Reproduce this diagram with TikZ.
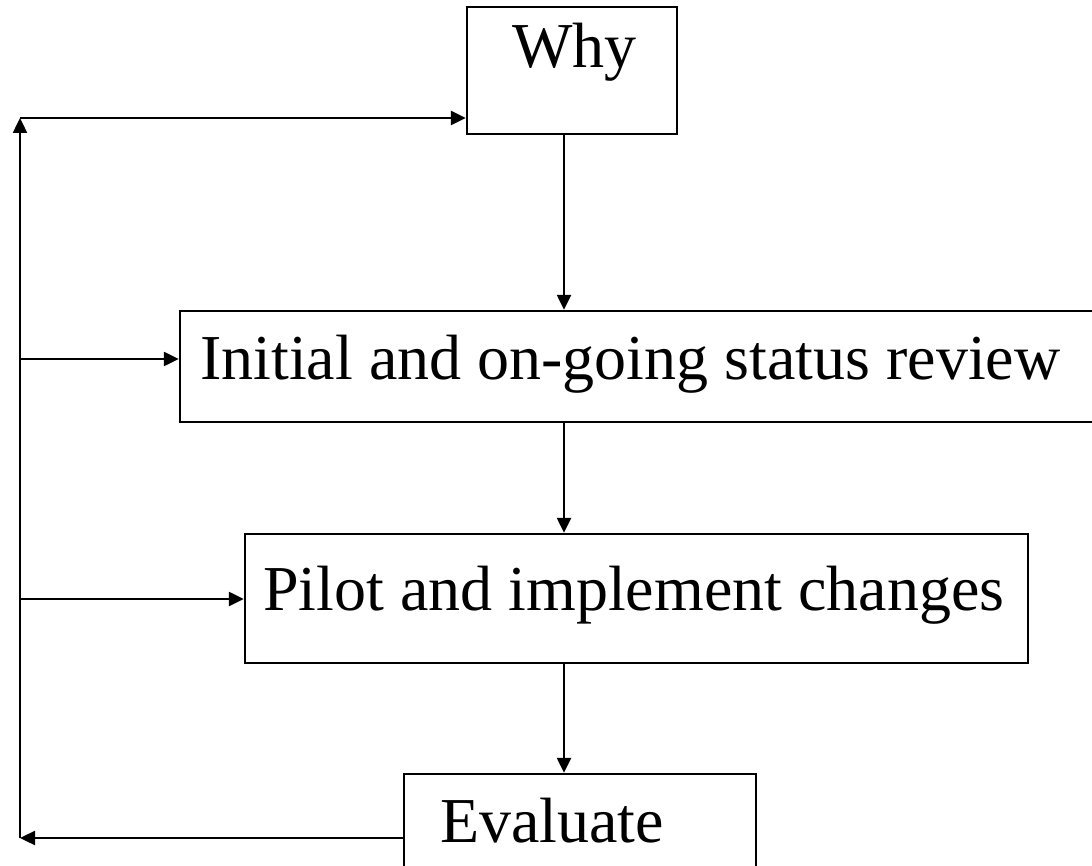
\documentclass[tikz,border=0pt]{standalone}
\usepackage{fontspec}
\setmainfont{Liberation Serif}
\usetikzlibrary{arrows.meta}
\begin{document}
\begin{tikzpicture}[x=1pt,y=-1pt,
  boxst/.style={draw,line width=2.4pt,inner sep=0pt,rectangle},
  lbl/.style={anchor=base west,inner sep=0pt,font=\fontsize{64}{70}\selectfont},
  arr/.style={line width=2.4pt,-{Triangle[length=15pt,width=14pt]}},
  ln/.style={line width=2.4pt}]
\useasboundingbox (0,0) rectangle (1092,866);
\fill[white] (0,0) rectangle (1092,866);
% boxes
\node[boxst,minimum width=210pt,minimum height=127pt] (why) at (572,70.5) {};
\node[boxst,minimum width=940pt,minimum height=111pt] (init) at (650,366.5) {};
\node[boxst,minimum width=783pt,minimum height=129pt] (pilot) at (636.5,598.5) {};
\node[boxst,minimum width=352pt,minimum height=120pt] (eval) at (580,834) {};
% texts
\node[lbl] (whyt) at (512,68) {Why};
\node[lbl] (initt) at (200,380) {Initial and on-going status review};
\node[lbl] (pilott) at (263,610) {Pilot and implement changes};
\node[lbl] (evalt) at (440,842) {Evaluate};
% coordinates
\coordinate (cx) at (564,0);
\coordinate (lt) at (20,118);
\coordinate (lb) at (20,838);
\coordinate (li) at (20,359);
\coordinate (lp) at (20,599);
% vertical chain
\draw[arr] (why.south -| cx) -- (init.north -| cx);
\draw[arr] (init.south -| cx) -- (pilot.north -| cx);
\draw[arr] (pilot.south -| cx) -- (eval.north -| cx);
% feedback loop
\draw[arr] (eval.west |- lb) -- (lb);
\draw[arr] (lb) -- (lt);
\draw[arr] (lt) -- (lt -| why.west);
\draw[arr] (li) -- (li -| init.west);
\draw[arr] (lp) -- (lp -| pilot.west);
\end{tikzpicture}
\end{document}
